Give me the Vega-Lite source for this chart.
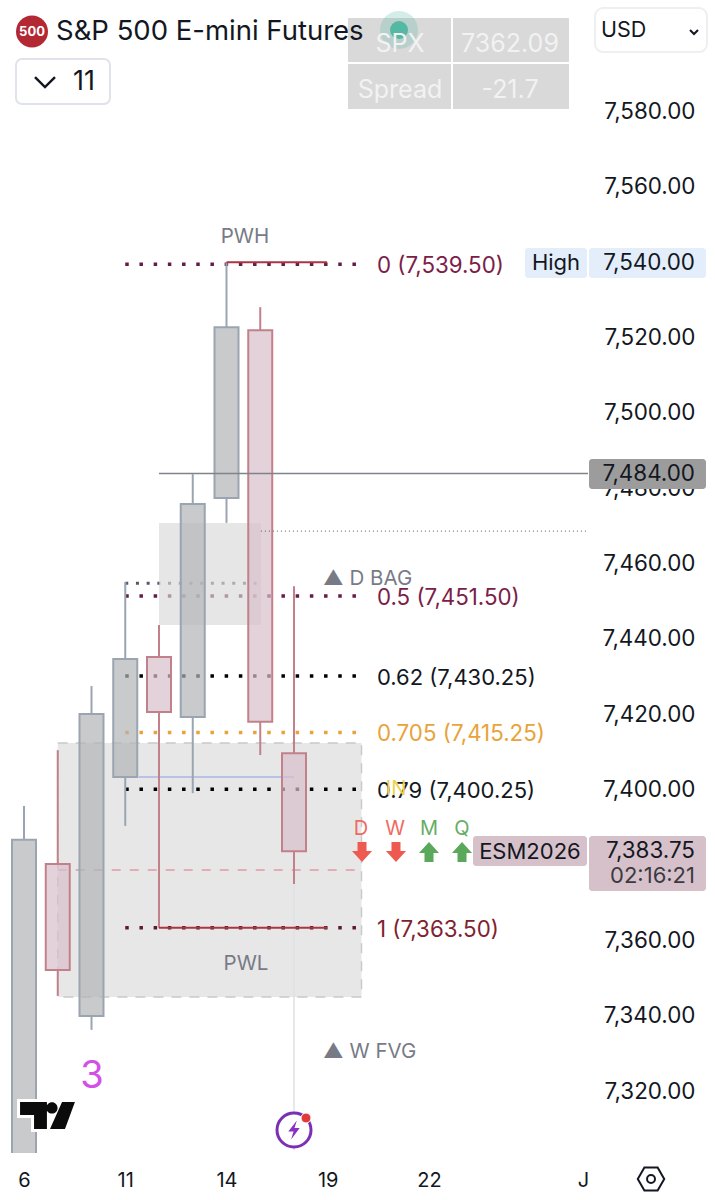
{
"$schema":"https://vega.github.io/schema/vega-lite/v6.json",
"width":588,"height":1153,
"autosize":{"type":"none"},
"padding":{"left":0,"top":0,"right":127,"bottom":47},
"background":"#ffffff",
"config":{"view":{"stroke":null},"text":{"font":"Inter"}},
"datasets":{
"candles":[
{"x":0,"high":7395.8,"bodyTop":7386.8,"bodyBottom":7290,"low":7290,"dir":"up"},
{"x":1,"high":7410.6,"bodyTop":7380.4,"bodyBottom":7352.3,"low":7345.4,"dir":"down"},
{"x":2,"high":7427.6,"bodyTop":7420.2,"bodyBottom":7340.1,"low":7336.4,"dir":"up"},
{"x":3,"high":7455.2,"bodyTop":7434.8,"bodyBottom":7403.5,"low":7390.5,"dir":"up"},
{"x":4,"high":7443.8,"bodyTop":7435.3,"bodyBottom":7420.7,"low":7363.5,"dir":"down"},
{"x":5,"high":7483.8,"bodyTop":7475.9,"bodyBottom":7419.4,"low":7399.2,"dir":"up"},
{"x":6,"high":7540,"bodyTop":7522.8,"bodyBottom":7477.5,"low":7470.9,"dir":"up"},
{"x":7,"high":7528.1,"bodyTop":7522,"bodyBottom":7418.1,"low":7409.3,"dir":"down"},
{"x":8,"high":7454.1,"bodyTop":7409.8,"bodyBottom":7383.8,"low":7375.1,"dir":"down"}
],
"fib":[
{"x":3,"x2":9.9,"y":7539.5,"level":"0"},
{"x":3,"x2":9.9,"y":7451.5,"level":"0.5"},
{"x":3,"x2":9.9,"y":7430.25,"level":"0.62"},
{"x":3,"x2":9.9,"y":7415.25,"level":"0.705"},
{"x":3,"x2":9.9,"y":7400.25,"level":"0.79"},
{"x":3,"x2":9.9,"y":7363.5,"level":"1"}
],
"labelsLeft":[
{"x":0.948,"y":7601.35,"text":"S&P 500 E-mini Futures","style":"title"},
{"x":1.452,"y":7588.09,"text":"11","style":"big"},
{"x":17.096,"y":7601.62,"text":"USD","style":"usd"},
{"x":10.459,"y":7539.28,"text":"0 (7,539.50)","style":"maroon"},
{"x":10.459,"y":7451.22,"text":"0.5 (7,451.50)","style":"maroon"},
{"x":10.459,"y":7430,"text":"0.62 (7,430.25)","style":"ink"},
{"x":10.459,"y":7415.15,"text":"0.705 (7,415.25)","style":"orange"},
{"x":10.459,"y":7400.03,"text":"0.79 (7,400.25)","style":"ink"},
{"x":10.459,"y":7363.16,"text":"1 (7,363.50)","style":"darkred"},
{"x":8.859,"y":7456.26,"text":"▲ D BAG","style":"grey"},
{"x":8.859,"y":7330.8,"text":"▲ W FVG","style":"grey"}
],
"labelsCenter":[
{"x":11.141,"y":7598.17,"text":"SPX","style":"table"},
{"x":14.4,"y":7598.17,"text":"7362.09","style":"table"},
{"x":11.141,"y":7585.97,"text":"Spread","style":"table"},
{"x":14.4,"y":7585.97,"text":"-21.7","style":"table"},
{"x":6.548,"y":7546.98,"text":"PWH","style":"grey"},
{"x":6.578,"y":7354.14,"text":"PWL","style":"grey"},
{"x":2.015,"y":7324.2,"text":"3","style":"purple"},
{"x":11.022,"y":7400.56,"text":"IN","style":"gold"},
{"x":9.985,"y":7389.95,"text":"D","style":"red"},
{"x":10.993,"y":7389.95,"text":"W","style":"red"},
{"x":12,"y":7389.95,"text":"M","style":"green"},
{"x":12.978,"y":7389.95,"text":"Q","style":"green"},
{"x":15.763,"y":7540.08,"text":"High","style":"ink"},
{"x":14.99,"y":7383.85,"text":"ESM2026","style":"ink"}
],
"labelsRight":[
{"x":19.881,"y":7540.08,"text":"7,540.00","style":"price"},
{"x":19.881,"y":7484.11,"text":"7,484.00","style":"price"},
{"x":19.881,"y":7384.1,"text":"7,383.75","style":"price"},
{"x":19.881,"y":7377.48,"text":"02:16:21","style":"countdown"}
]
},
"encoding":{
"x":{"field":"x","type":"quantitative","scale":{"domain":[-0.711,16.711],"nice":false,"zero":false,"padding":0},
"axis":{"title":null,"orient":"bottom","grid":false,"domain":false,"ticks":false,"values":[0,3,6,9,12,16.56],"labelExpr":"datum.value==0?'6':datum.value==3?'11':datum.value==6?'14':datum.value==9?'19':datum.value==12?'22':'J'","labelFont":"Inter","labelFontSize":20,"labelColor":"#131722","labelPadding":27,"labelBaseline":"middle","labelFlush":false,"labelOverlap":false}},
"y":{"field":"y","type":"quantitative","scale":{"domain":[7303.74,7609.58],"nice":false,"zero":false,"padding":0},
"axis":{"title":null,"orient":"right","grid":false,"domain":false,"ticks":false,"values":[7320,7340,7360,7380,7400,7420,7440,7460,7480,7500,7520,7540,7560,7580],"format":",.2f","labelFont":"Inter","labelFontSize":22.4,"labelColor":"#131722","labelAlign":"right","labelBaseline":"middle","labelPadding":107,"labelOffset":-0.5,"labelOverlap":false,"labelFlush":false}}
},
"layer":[
{"data":{"values":[{"x":1,"x2":10,"y":7412.5,"y2":7345.1}]},"mark":{"type":"rect","fill":"#e7e7e8","stroke":"#c9c9c9","strokeWidth":1.5,"strokeDash":[10,8]},"encoding":{"x2":{"field":"x2"},"y2":{"field":"y2"}}},
{"data":{"values":[{"x":1,"x2":10,"y":7378.8}]},"mark":{"type":"rule","stroke":"#e39aa2","strokeWidth":1.5,"strokeDash":[9,9]},"encoding":{"x2":{"field":"x2"}}},
{"data":{"name":"fib"},"mark":{"type":"rule","strokeWidth":3.5,"strokeDash":[3.5,10.7]},"encoding":{"x2":{"field":"x2"},"stroke":{"field":"level","type":"nominal","legend":null,"scale":{"domain":["0","0.5","0.62","0.705","0.79","1","up","down"],"range":["#651c45","#651c45","#000000","#e8a33a","#000000","#5f1a28","#9aa5b1","#c2808b"]}}}},
{"data":{"values":[{"x":3,"x2":6.93,"y":7454.9}]},"mark":{"type":"rule","stroke":"#555b66","strokeWidth":3,"strokeDash":[3,7.7]},"encoding":{"x2":{"field":"x2"}}},
{"data":{"values":[{"x":4,"x2":7.02,"y":7470.85,"y2":7443.8}]},"mark":{"type":"rect","fill":"#d8d8d8","opacity":0.65},"encoding":{"x2":{"field":"x2"},"y2":{"field":"y2"}}},
{"data":{"values":[{"x":8,"y":7375,"y2":7304.5}]},"mark":{"type":"rule","stroke":"#dfe1e6","strokeWidth":1.5},"encoding":{"y2":{"field":"y2"}}},
{"data":{"values":[{"x":3.4,"x2":8,"y":7403.5}]},"mark":{"type":"rule","stroke":"#a9b4e8","strokeWidth":1.5},"encoding":{"x2":{"field":"x2"}}},
{"data":{"name":"candles"},"mark":{"type":"rule","strokeWidth":2,"clip":true},"encoding":{"y":{"field":"high","type":"quantitative"},"y2":{"field":"bodyTop"},"stroke":{"field":"dir","type":"nominal","legend":null}}},
{"data":{"name":"candles"},"mark":{"type":"rule","strokeWidth":2,"clip":true},"encoding":{"y":{"field":"bodyBottom","type":"quantitative"},"y2":{"field":"low"},"stroke":{"field":"dir","type":"nominal","legend":null}}},
{"data":{"name":"candles"},"mark":{"type":"bar","size":24,"orient":"vertical","strokeWidth":2,"fillOpacity":0.7,"clip":true},"encoding":{"y":{"field":"bodyTop","type":"quantitative"},"y2":{"field":"bodyBottom"},"fill":{"field":"dir","type":"nominal","legend":null,"scale":{"domain":["up","down"],"range":["#b2b4b5","#d7bfca"]}},"stroke":{"field":"dir","type":"nominal","legend":null}}},
{"data":{"values":[{"x":6,"x2":8.98,"y":7540},{"x":4,"x2":8.98,"y":7363.5}]},"mark":{"type":"rule","stroke":"#a93642","strokeWidth":2},"encoding":{"x2":{"field":"x2"}}},
{"data":{"values":[{"x":4,"x2":16.711,"y":7484}]},"mark":{"type":"rule","stroke":"#80848a","strokeWidth":1.5},"encoding":{"x2":{"field":"x2"}}},
{"data":{"values":[{"x":7.02,"x2":16.711,"y":7468.7}]},"mark":{"type":"rule","stroke":"#555b66","strokeWidth":1,"strokeDash":[1,3]},"encoding":{"x2":{"field":"x2"}}},
{"data":{"values":[{"x":9.6,"x2":12.652,"y":7604.8,"y2":7593.13},{"x":12.711,"x2":16.148,"y":7604.8,"y2":7593.13},{"x":9.6,"x2":12.652,"y":7592.6,"y2":7580.66},{"x":12.711,"x2":16.148,"y":7592.6,"y2":7580.66}]},"mark":{"type":"rect","fill":"#d9d9d9"},"encoding":{"x2":{"field":"x2"},"y2":{"field":"y2"}}},
{"data":{"values":[{"x":11.111,"y":7601.62}]},"mark":{"type":"point","shape":"circle","filled":true,"fill":"#54b8a3","opacity":0.25,"size":1444,"stroke":null}},
{"data":{"values":[{"x":11.111,"y":7601.62}]},"mark":{"type":"point","shape":"circle","filled":true,"fill":"#54b8a3","opacity":1,"size":324,"stroke":null}},
{"data":{"values":[{"x":-0.237,"x2":2.548,"y":7593.93,"y2":7581.99}]},"mark":{"type":"rect","fill":"#ffffff","stroke":"#e0e3eb","strokeWidth":2,"cornerRadius":6},"encoding":{"x2":{"field":"x2"},"y2":{"field":"y2"}}},
{"data":{"values":[{"x":16.919,"x2":20.237,"y":7607.45,"y2":7595.78}]},"mark":{"type":"rect","fill":"#ffffff","stroke":"#eeeff3","strokeWidth":2,"cornerRadius":8},"encoding":{"x2":{"field":"x2"},"y2":{"field":"y2"}}},
{"data":{"values":[{"x":14.844,"x2":16.681,"y":7543.79,"y2":7535.84},{"x":16.741,"x2":20.207,"y":7543.79,"y2":7535.84}]},"mark":{"type":"rect","fill":"#e3eefa","cornerRadius":3},"encoding":{"x2":{"field":"x2"},"y2":{"field":"y2"}}},
{"data":{"values":[{"x":16.741,"x2":20.207,"y":7487.82,"y2":7479.87}]},"mark":{"type":"rect","fill":"#9c9c9c","cornerRadius":3},"encoding":{"x2":{"field":"x2"},"y2":{"field":"y2"}}},
{"data":{"values":[{"x":13.304,"x2":16.681,"y":7387.85,"y2":7379.89},{"x":16.741,"x2":20.207,"y":7387.85,"y2":7373.26}]},"mark":{"type":"rect","fill":"#d6c1cb","cornerRadius":3},"encoding":{"x2":{"field":"x2"},"y2":{"field":"y2"}}},
{"data":{"values":[{"x":10.015,"y":7383.58},{"x":11.022,"y":7383.58}]},"mark":{"type":"point","shape":"M-0.45,-1H0.45V-0.1H1L0,1L-1,-0.1H-0.45Z","filled":true,"fill":"#ef5a50","opacity":1,"size":400,"stroke":null}},
{"data":{"values":[{"x":12,"y":7383.58},{"x":12.978,"y":7383.58}]},"mark":{"type":"point","shape":"M-0.45,1H0.45V0.1H1L0,-1L-1,0.1H-0.45Z","filled":true,"fill":"#5aa85a","opacity":1,"size":400,"stroke":null}},
{"data":{"values":[{"x":0.237,"y":7601.22}]},"mark":{"type":"point","shape":"circle","filled":true,"fill":"#b22833","opacity":1,"size":1024,"stroke":null}},
{"data":{"values":[{"x":0.237,"y":7601.22,"text":"500"}]},"mark":{"type":"text","align":"center","baseline":"middle","fontWeight":"bold","fontSize":13,"fill":"#ffffff"},"encoding":{"text":{"field":"text"}}},
{"data":{"values":[{"x":0.622,"y":7587.82}]},"mark":{"type":"point","shape":"M-1,-0.5L0,0.5L1,-0.5","filled":false,"stroke":"#131722","strokeWidth":2.5,"opacity":1,"size":400}},
{"data":{"values":[{"x":19.852,"y":7601.09}]},"mark":{"type":"point","shape":"M-1,-0.5L0,0.5L1,-0.5","filled":false,"stroke":"#131722","strokeWidth":2,"opacity":1,"size":64}},
{"data":{"values":[{"x":18.578,"y":7296.85}]},"mark":{"type":"point","shape":"M-1,0L-0.5,-0.87H0.5L1,0L0.5,0.87H-0.5ZM0.3,0A0.3,0.3 0 1 1 -0.3,0A0.3,0.3 0 1 1 0.3,0Z","filled":false,"stroke":"#131722","strokeWidth":2,"opacity":1,"size":700}},
{"data":{"values":[{"x":0.696,"y":7313.69}]},"mark":{"type":"point","shape":"M-0.98,-0.48H-0.02V0.48H-0.48V-0.02H-0.98ZM-0.04,-0.27A0.2,0.2 0 1 1 0.36,-0.27A0.2,0.2 0 1 1 -0.04,-0.27ZM0.52,-0.48H0.98L0.625,0.48H0.09Z","filled":false,"stroke":"#ffffff","strokeWidth":6,"opacity":1,"size":3136}},
{"data":{"values":[{"x":0.696,"y":7313.69}]},"mark":{"type":"point","shape":"M-0.98,-0.48H-0.02V0.48H-0.48V-0.02H-0.98ZM-0.04,-0.27A0.2,0.2 0 1 1 0.36,-0.27A0.2,0.2 0 1 1 -0.04,-0.27ZM0.52,-0.48H0.98L0.625,0.48H0.09Z","filled":true,"fill":"#0b0b0b","opacity":1,"size":3136,"stroke":null}},
{"data":{"values":[{"x":8,"y":7309.84}]},"mark":{"type":"point","shape":"circle","filled":false,"fill":"#ffffff","fillOpacity":1,"stroke":"#7b2fb5","strokeWidth":3,"opacity":1,"size":1156}},
{"data":{"values":[{"x":8,"y":7309.84}]},"mark":{"type":"point","shape":"M0.3,-1L-0.6,0.15H-0.05L-0.3,1L0.6,-0.2H0.05Z","filled":true,"fill":"#8a2fc0","opacity":1,"size":361,"stroke":null}},
{"data":{"values":[{"x":8.356,"y":7313.02}]},"mark":{"type":"point","shape":"circle","filled":true,"fill":"#e03b3b","opacity":1,"size":100,"stroke":"#ffffff","strokeWidth":1}},
{"data":{"name":"labelsLeft"},"mark":{"type":"text","align":"left","baseline":"middle","dy":1},"encoding":{"text":{"field":"text"},
"color":{"field":"style","type":"nominal","legend":null,"scale":{"domain":["title","big","usd","ink","price","maroon","orange","darkred","grey","table","purple","gold","red","green","countdown"],"range":["#131722","#131722","#131722","#131722","#131722","#7a2048","#e8a33a","#7f2230","#787b86","#f2f2f2","#d44fe8","#ecd24a","#ef6b62","#66ad66","#3a3a42"]}},
"size":{"field":"style","type":"nominal","legend":null,"scale":{"type":"ordinal","domain":["title","big","usd","ink","price","maroon","orange","darkred","grey","table","purple","gold","red","green","countdown"],"range":[27.5,27,21.5,22,22.4,22.3,22.3,22.3,20.5,25,38,20,20,20,22]}}}},
{"data":{"name":"labelsCenter"},"mark":{"type":"text","align":"center","baseline":"middle","dy":1},"encoding":{"text":{"field":"text"},
"color":{"field":"style","type":"nominal","legend":null,"scale":{"domain":["title","big","usd","ink","price","maroon","orange","darkred","grey","table","purple","gold","red","green","countdown"],"range":["#131722","#131722","#131722","#131722","#131722","#7a2048","#e8a33a","#7f2230","#787b86","#f2f2f2","#d44fe8","#ecd24a","#ef6b62","#66ad66","#3a3a42"]}},
"size":{"field":"style","type":"nominal","legend":null,"scale":{"type":"ordinal","domain":["title","big","usd","ink","price","maroon","orange","darkred","grey","table","purple","gold","red","green","countdown"],"range":[27.5,27,21.5,22,22.4,22.3,22.3,22.3,20.5,25,38,20,20,20,22]}}}},
{"data":{"name":"labelsRight"},"mark":{"type":"text","align":"right","baseline":"middle","dy":1},"encoding":{"text":{"field":"text"},
"color":{"field":"style","type":"nominal","legend":null,"scale":{"domain":["title","big","usd","ink","price","maroon","orange","darkred","grey","table","purple","gold","red","green","countdown"],"range":["#131722","#131722","#131722","#131722","#131722","#7a2048","#e8a33a","#7f2230","#787b86","#f2f2f2","#d44fe8","#ecd24a","#ef6b62","#66ad66","#3a3a42"]}},
"size":{"field":"style","type":"nominal","legend":null,"scale":{"type":"ordinal","domain":["title","big","usd","ink","price","maroon","orange","darkred","grey","table","purple","gold","red","green","countdown"],"range":[27.5,27,21.5,22,22.4,22.3,22.3,22.3,20.5,25,38,20,20,20,22]}}}}
]
}
